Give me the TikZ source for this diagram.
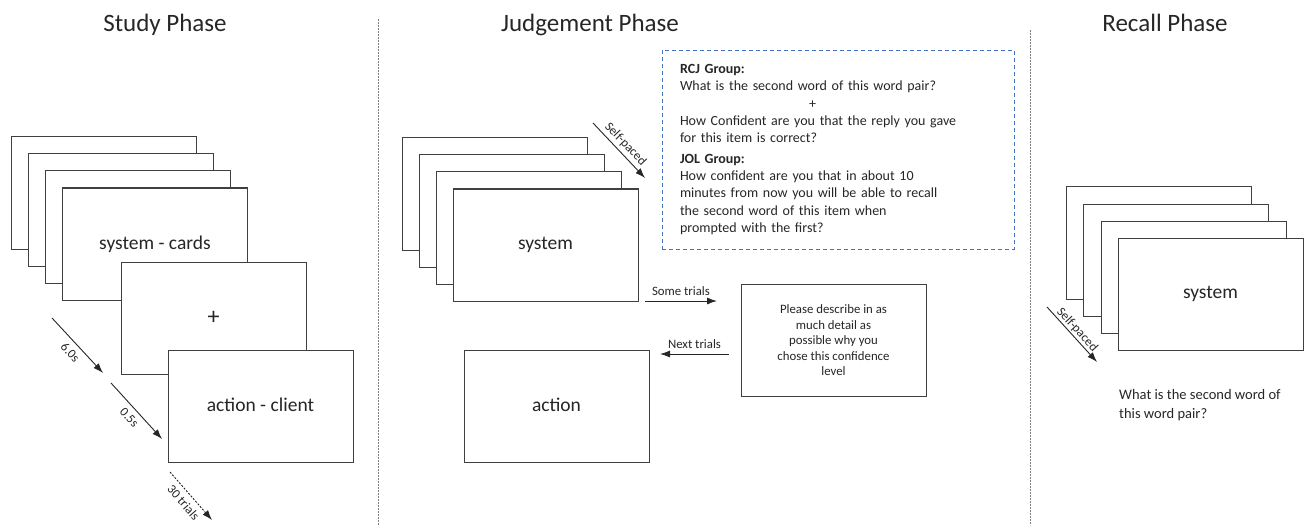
\documentclass[tikz,border=0pt]{standalone}
\usepackage{fontspec}
\setmainfont{Carlito}
\usepackage{tikz}
\usetikzlibrary{arrows.meta,positioning}
\definecolor{phgray}{RGB}{64,64,64}
\definecolor{phtext}{RGB}{38,38,38}
\definecolor{phblue}{RGB}{68,114,196}
\newcommand{\cardfont}{\fontsize{19.5}{23}\selectfont}
\newcommand{\smallfont}{\fontsize{12.8}{15.5}\selectfont}
\newcommand{\boxfont}{\fontsize{14}{17.3}\selectfont}
\newcommand{\recallfont}{\fontsize{14.5}{19.5}\selectfont}
\newcommand{\titlefont}{\fontsize{25}{30}\selectfont}
\tikzstyle{card} = [rectangle, draw=phgray, fill=white, line width=1pt, minimum width=185pt, minimum height=112pt, inner sep=0pt, text=phtext, font=\cardfont]
\tikzstyle{arrow} = [line width=0.9pt, draw=black!85, -{Latex[length=10pt,width=7pt]}]
\tikzstyle{lbl} = [font=\smallfont, text=phtext, inner sep=2pt]
\tikzstyle{title} = [font=\titlefont, text=phtext, anchor=base]
\tikzstyle{divider} = [draw=gray, line width=0.8pt, dash pattern=on 2pt off 1pt]

\begin{document}
\begin{tikzpicture}[x=1pt,y=-1pt]
\useasboundingbox (0,0) rectangle (1307,532);

% Titles
\node[title] (tstudy) at (165,32) {Study Phase};
\node[title] (tjudge) at (590,32) {Judgement Phase};
\node[title] (trecall) at (1165,32) {Recall Phase};

% Dividers
\draw[divider] (378,19) -- (378,525);
\draw[divider] (1030,30) -- (1030,525);

% Study phase
\node[card] (s1) at (104,193) {};
\node[card] (s2) at (121,210) {};
\node[card] (s3) at (138,227) {};
\node[card] (s4) at (155,244) {\raisebox{3pt}{system - cards}};
\node[card, font=\fontsize{24}{28}\selectfont] (plus) at (213.5,318) {\raisebox{-3pt}{+}};
\node[card] (client) at (260.5,406) {\raisebox{3pt}{action - client}};

\coordinate (a1s) at (52,318);
\coordinate (a1e) at (103,373);
\coordinate (a2s) at (111,383);
\coordinate (a2e) at (162,439);
\coordinate (a3s) at (170,472);
\coordinate (a3e) at (212,520);
\draw[arrow] (a1s) -- node[lbl, midway, sloped, below, inner sep=5pt] {6.0s} (a1e);
\draw[arrow] (a2s) -- node[lbl, midway, sloped, below, inner sep=5pt] {0.5s} (a2e);
\draw[arrow, dash pattern=on 2pt off 1.5pt] (a3s) -- node[lbl, midway, sloped, below, inner sep=5pt] {30 trials} (a3e);

% Judgement phase
\node[card] (j1) at (494.5,194) {};
\node[card] (j2) at (511.5,211) {};
\node[card] (j3) at (528.5,228) {};
\node[card] (j4) at (545.5,245) {\raisebox{3pt}{system}};
\node[card] (action) at (556.5,406) {\raisebox{3pt}{action}};
\node[card, font=\smallfont, align=center] (why) at (833.5,340.5) {Please describe in as\\much detail as\\possible why you\\chose this confidence\\level};
\node[rectangle, draw=phblue, line width=0.9pt, dash pattern=on 4pt off 3pt, minimum width=352pt, minimum height=199pt, text width=316pt, inner xsep=18pt, inner ysep=0pt, align=left, font=\boxfont, text=phtext] (groups) at (838,149.5)
  {\textbf{RCJ Group:}\\
   What is the second word of this word pair?\\
   \hspace*{129pt}+\\
   How Confident are you that the reply you gave\\
   for this item is correct?\\[3pt]
   \textbf{JOL Group:}\\
   How confident are you that in about 10\\
   minutes from now you will be able to recall\\
   the second word of this item when\\
   prompted with the first?};

\coordinate (b1s) at (593,123);
\coordinate (b1e) at (645,178);
\coordinate (b2s) at (645,301);
\coordinate (b2e) at (717,301);
\coordinate (b3s) at (729,354);
\coordinate (b3e) at (660,354);
\draw[arrow] (b1s) -- node[lbl, midway, sloped, above, inner sep=3pt] {Self-paced} (b1e);
\draw[arrow] (b2s) -- node[lbl, midway, above, yshift=3pt] {Some trials} (b2e);
\draw[arrow] (b3s) -- node[lbl, midway, above, yshift=3pt] {Next trials} (b3e);

% Recall phase
\node[card] (r1) at (1158.5,243) {};
\node[card] (r2) at (1175.5,260) {};
\node[card] (r3) at (1193.5,277) {};
\node[card] (r4) at (1210.5,294) {\raisebox{3pt}{system}};
\node[anchor=north west, inner sep=0pt, align=left, font=\recallfont, text=phtext] (cue) at (1119,389) {What is the second word of\\this word pair?};

\coordinate (c1s) at (1047,307);
\coordinate (c1e) at (1097,362);
\draw[arrow] (c1s) -- node[lbl, midway, sloped, above, inner sep=1pt] {Self-paced} (c1e);
\end{tikzpicture}
\end{document}
